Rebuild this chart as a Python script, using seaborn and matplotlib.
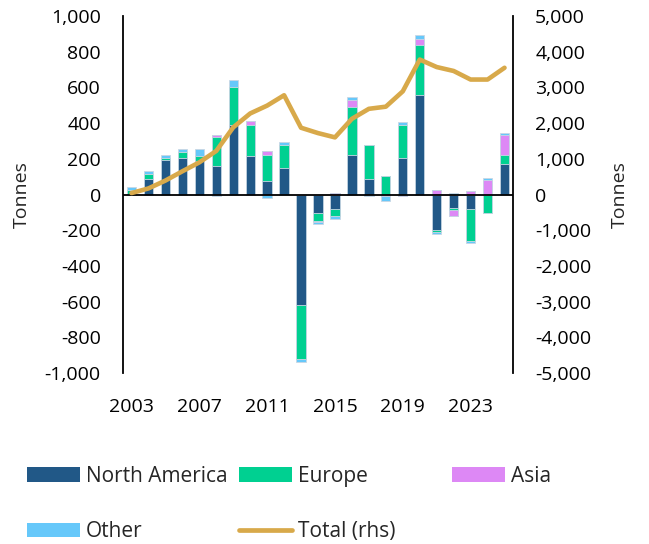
import numpy as np
import pandas as pd
import matplotlib
matplotlib.use("Agg")
import matplotlib.pyplot as plt
import seaborn as sns
from matplotlib.patches import Patch
from matplotlib.lines import Line2D
from matplotlib.ticker import FuncFormatter

# ---------------- data ----------------
years = list(range(2003, 2026))
north_america = [3, 88, 192, 203, 185, 159, 390, 215, 75, 150, -618, -105, -82, 220, 88, 0, 202, 556, -200, -75, -80, 0, 172]
europe = [20, 26, 13, 37, 30, 162, 211, 175, 149, 125, -302, -46, -41, 271, 188, 101, 185, 279, -11, -11, -182, -103, 52]
asia = [0, 0, 0, 0, 0, 10, 0, 24, 19, 0, 0, -5, 8, 41, 0, -10, -9, 37, 24, -32, 18, 84, 108]
other = [18, 15, 17, 17, 40, -8, 43, -5, -18, 18, -20, -12, -13, 13, -10, -25, 18, 24, -9, 8, -9, 9, 14]
total_rhs = [40, 170, 390, 650, 900, 1220, 1880, 2270, 2490, 2780, 1870, 1720, 1600, 2120, 2400, 2460, 2890, 3780, 3570, 3460, 3220, 3220, 3550]

series_names = ["North America", "Europe", "Asia", "Other"]
series_vals = [north_america, europe, asia, other]
colors = {"North America": "#215887", "Europe": "#00d091", "Asia": "#dd88f5", "Other": "#66c8fa"}
line_color = "#d8a94a"
xtick_years = [2003, 2007, 2011, 2015, 2019, 2023]

# ---------------- style ----------------
sns.set_style("white")
plt.rcParams["font.family"] = ["Open Sans", "DejaVu Sans"]
FS = 14
LFS = 15

fig = plt.figure(figsize=(6.49, 5.44), dpi=100)
ax = fig.add_axes([123 / 649, 1 - 373 / 544, (513 - 123) / 649, (373 - 16) / 544])

labels = [str(y) for y in years]
arr = np.array(series_vals, dtype=float)
pos = np.clip(arr, 0, None).cumsum(axis=0)
neg = np.clip(arr, None, 0).cumsum(axis=0)

bar_kw = dict(width=0.55, saturation=1, edgecolor="#c9d7e4", linewidth=0.6, errorbar=None)
for k in range(len(series_names) - 1, -1, -1):
    name = series_names[k]
    df_p = pd.DataFrame({"year": labels, "v": pos[k]})
    df_n = pd.DataFrame({"year": labels, "v": neg[k]})
    sns.barplot(data=df_p, x="year", y="v", order=labels, color=colors[name], ax=ax, **bar_kw)
    sns.barplot(data=df_n, x="year", y="v", order=labels, color=colors[name], ax=ax, **bar_kw)

ax.axhline(0, color="black", lw=1.3, zorder=5)
ax.set_ylim(-1000, 1000)
ax.set_yticks(np.arange(-1000, 1001, 200))
ax.yaxis.set_major_formatter(FuncFormatter(lambda v, p: f"{int(v):,}"))
ax.set_xlim(-0.5, len(years) - 0.5)
ax.set_xticks([years.index(y) for y in xtick_years])
ax.set_xticklabels([str(y) for y in xtick_years])
ax.tick_params(axis="y", length=0, pad=16, labelsize=FS, colors="black")
ax.tick_params(axis="x", length=0, pad=18, labelsize=FS, colors="black")
ax.set_xlabel("")
ax.set_ylabel("Tonnes", fontsize=FS, labelpad=10)
for s in ["top", "bottom", "right"]:
    ax.spines[s].set_visible(False)
ax.spines["left"].set_color("black")
ax.spines["left"].set_linewidth(1.3)

ax2 = ax.twinx()
sns.lineplot(x=np.arange(len(years)), y=total_rhs, ax=ax2, color=line_color, linewidth=3.3)
ax2.set_ylim(-5000, 5000)
ax2.set_yticks(np.arange(-5000, 5001, 1000))
ax2.yaxis.set_major_formatter(FuncFormatter(lambda v, p: f"{int(v):,}"))
ax2.tick_params(axis="y", length=0, pad=16, labelsize=FS, colors="black")
ax2.set_ylabel("Tonnes", fontsize=FS, labelpad=14)
for s in ["top", "bottom", "left"]:
    ax2.spines[s].set_visible(False)
ax2.spines["right"].set_color("black")
ax2.spines["right"].set_linewidth(1.3)
ax.set_xlim(-0.5, len(years) - 0.5)

# ---------------- legends ----------------
def patch(name):
    return Patch(facecolor=colors[name], edgecolor="none")

leg_kw = dict(loc="upper left", frameon=False, fontsize=LFS, borderpad=0, borderaxespad=0,
              handlelength=2.54, handleheight=0.69, handletextpad=0.27, labelspacing=1.64)
top = 1 - 466 / 544
fig.legend([patch("North America"), patch("Other")], ["North America", "Other"],
           bbox_to_anchor=(27 / 649, top), **leg_kw)
fig.legend([patch("Europe"), Line2D([0], [0], color=line_color, lw=3.4, solid_capstyle="round")],
           ["Europe", "Total (rhs)"], bbox_to_anchor=(239 / 649, top), **leg_kw)
fig.legend([patch("Asia")], ["Asia"], bbox_to_anchor=(452 / 649, top), **leg_kw)

fig.savefig("out.png", dpi=100)
